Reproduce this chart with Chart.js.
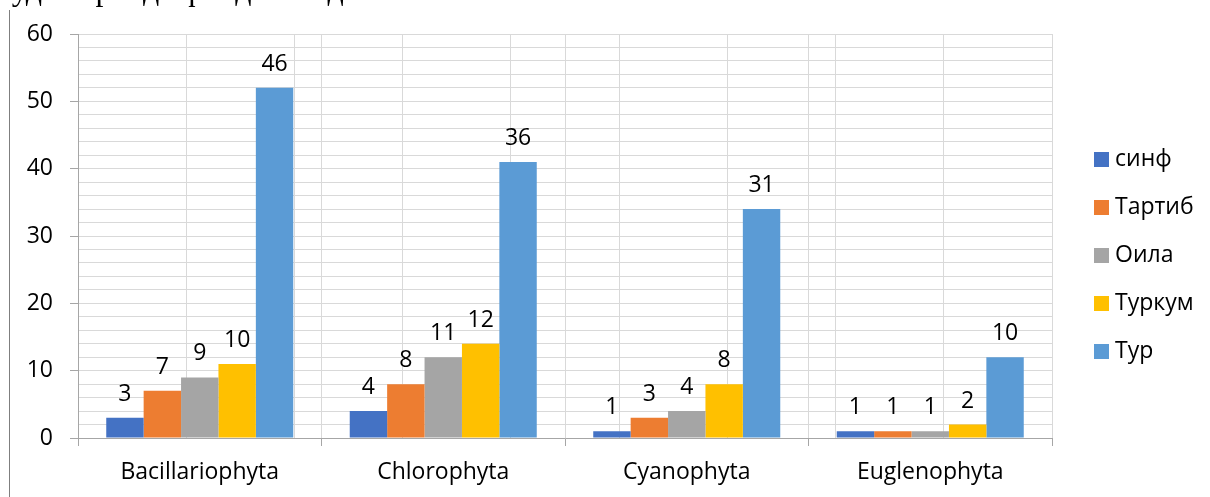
<!DOCTYPE html>
<html lang="uz">
  <head>
    <meta charset="UTF-8" />
    <title>Algae taxa chart</title>
    <script src="https://cdn.jsdelivr.net/npm/chart.js"></script>
    <style>
      body { margin: 0; background: #fff; }
      #wrap { position: relative; width: 1210px; height: 497px; overflow: hidden; }
      #caption {
        position: absolute; left: -2px; top: -29px; line-height: 30px;
        font: 32px "Liberation Serif", serif; color: #000; white-space: nowrap;
      }
      #frame { position: absolute; left: 9px; top: 10px; bottom: 0; border-left: 1px solid #7f7f7f; }
    </style>
  </head>
  <body>
    <div id="wrap">
      <div id="caption">суда сирпада фондаланади.</div>
      <div id="frame"></div>
      <canvas id="chart" width="1210" height="497"></canvas>
    </div>

    <script>
      // Categories and series
      const categories = ["Bacillariophyta", "Chlorophyta", "Cyanophyta", "Euglenophyta"];
      const seriesNames = ["синф", "Тартиб", "Оила", "Туркум", "Тур"];
      const seriesColors = ["#4472C4", "#ED7D31", "#A5A5A5", "#FFC000", "#5B9BD5"];

      // Bar heights as drawn
      const sinf = [3, 4, 1, 1];
      const tartib = [7, 8, 3, 1];
      const oila = [9, 12, 4, 1];
      const turkum = [11, 14, 8, 2];
      const tur = [52, 41, 34, 12];

      // Numbers printed above the bars
      const sinfLabels = [3, 4, 1, 1];
      const tartibLabels = [7, 8, 3, 1];
      const oilaLabels = [9, 11, 4, 1];
      const turkumLabels = [10, 12, 8, 2];
      const turLabels = [46, 36, 31, 10];

      const yTicks = [0, 10, 20, 30, 40, 50, 60];

      const values = [sinf, tartib, oila, turkum, tur];
      const labelSets = [sinfLabels, tartibLabels, oilaLabels, turkumLabels, turLabels];

      const FONT = { family: "'Open Sans', sans-serif", size: 23 };
      const FONT_CSS = "23px 'Open Sans', sans-serif";

      // Labels above each bar
      const barLabels = {
        id: "barLabels",
        afterDatasetsDraw(chart) {
          const ctx = chart.ctx;
          ctx.save();
          ctx.font = FONT_CSS;
          ctx.fillStyle = "#000";
          ctx.textAlign = "center";
          ctx.textBaseline = "alphabetic";
          chart.data.datasets.forEach((ds, i) => {
            chart.getDatasetMeta(i).data.forEach((bar, j) => {
              ctx.fillText(String(labelSets[i][j]), bar.x, bar.y - 17);
            });
          });
          ctx.restore();
        },
      };

      // Legend on the right side
      const sideLegend = {
        id: "sideLegend",
        afterDraw(chart) {
          const ctx = chart.ctx;
          ctx.save();
          ctx.font = FONT_CSS;
          ctx.textBaseline = "middle";
          chart.data.datasets.forEach((ds, i) => {
            const y = 159 + i * 48;
            ctx.fillStyle = ds.backgroundColor;
            ctx.fillRect(1094, y - 7, 15, 15);
            ctx.fillStyle = "#000";
            ctx.fillText(ds.label, 1115, y);
          });
          ctx.restore();
        },
      };

      const ctx = document.getElementById("chart").getContext("2d");
      const myChart = new Chart(ctx, {
        type: "bar",
        data: {
          labels: categories,
          datasets: seriesNames.map((name, i) => ({
            label: name,
            data: values[i],
            backgroundColor: seriesColors[i],
            categoryPercentage: 0.768,
            barPercentage: 1,
            xAxisID: "x",
          })),
        },
        options: {
          responsive: false,
          animation: false,
          layout: { padding: { left: 0, top: 34, right: 158, bottom: 0 } },
          plugins: {
            legend: { display: false },
            tooltip: { enabled: false },
          },
          scales: {
            x: {
              type: "category",
              offset: true,
              grid: {
                offset: true,
                color: "#d9d9d9",
                tickLength: 8,
                tickColor: "#a6a6a6",
              },
              border: { color: "#a6a6a6" },
              ticks: { color: "#000", font: FONT, padding: 13 },
              afterFit(scale) { scale.height = 59; },
            },
            // only used for the vertical lines halfway through each category
            xMid: {
              type: "linear",
              position: "top",
              min: 0,
              max: 8,
              ticks: { display: false, stepSize: 1 },
              grid: { color: "#d9d9d9", drawTicks: false },
              border: { display: false },
              afterFit(scale) { scale.height = 0; },
            },
            y: {
              min: 0,
              max: 60,
              afterBuildTicks(scale) {
                const t = [];
                for (let v = 0; v <= 60; v += 2) t.push({ value: v });
                scale.ticks = t;
              },
              ticks: {
                color: "#000",
                font: FONT,
                padding: 17,
                autoSkip: false,
                callback: (v) => (yTicks.includes(v) ? v : ""),
              },
              grid: {
                color: "#d9d9d9",
                tickLength: 8,
                tickColor: (c) => (c.tick && c.tick.value % 10 === 0 ? "#a6a6a6" : "rgba(0,0,0,0)"),
              },
              border: { color: "#a6a6a6" },
              afterFit(scale) { scale.width = 78; },
            },
          },
        },
        plugins: [barLabels, sideLegend],
      });
    </script>
  </body>
</html>
